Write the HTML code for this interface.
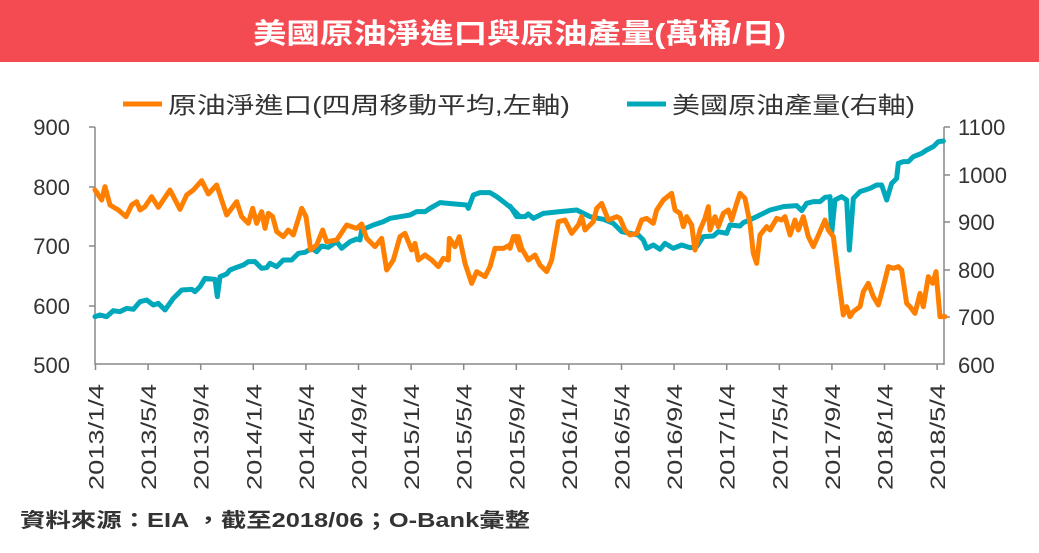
<!DOCTYPE html>
<html><head><meta charset="utf-8"><style>
body{margin:0;width:1039px;height:548px;background:#fff;overflow:hidden;font-family:"Liberation Sans","Noto Sans CJK TC",sans-serif}
</style></head><body>
<svg width="1039" height="548" xmlns="http://www.w3.org/2000/svg" font-family="Liberation Sans, Noto Sans CJK TC, sans-serif">
<rect x="0" y="0" width="1039" height="62" fill="#f44a52"/>
<text x="253" y="43" fill="#fff" font-size="28" font-weight="bold" textLength="533" lengthAdjust="spacingAndGlyphs">美國原油淨進口與原油產量(萬桶/日)</text>
<line x1="123" y1="104" x2="162" y2="104" stroke="#ff8000" stroke-width="5"/>
<text x="168" y="113" font-size="23" fill="#333" textLength="402" lengthAdjust="spacingAndGlyphs">原油淨進口(四周移動平均,左軸)</text>
<line x1="627" y1="104" x2="666" y2="104" stroke="#00a8bc" stroke-width="5"/>
<text x="672" y="113" font-size="23" fill="#333" textLength="243" lengthAdjust="spacingAndGlyphs">美國原油產量(右軸)</text>
<g stroke="#888" stroke-width="1.5" fill="none">
<line x1="95" y1="127" x2="95" y2="365"/>
<line x1="944" y1="127" x2="944" y2="365"/>
<line x1="95" y1="364" x2="944" y2="364"/>
<line x1="89" y1="127" x2="95" y2="127"/><line x1="89" y1="187" x2="95" y2="187"/><line x1="89" y1="246" x2="95" y2="246"/><line x1="89" y1="306" x2="95" y2="306"/>
<line x1="944" y1="127" x2="950" y2="127"/><line x1="944" y1="175" x2="950" y2="175"/><line x1="944" y1="222" x2="950" y2="222"/><line x1="944" y1="270" x2="950" y2="270"/><line x1="944" y1="317" x2="950" y2="317"/>
</g>
<g font-size="22" fill="#333" text-anchor="end">
<text x="70" y="135">900</text><text x="70" y="195">800</text><text x="70" y="254">700</text><text x="70" y="314">600</text><text x="70" y="373">500</text>
</g>
<g font-size="22" fill="#333">
<text x="958" y="135">1100</text><text x="958" y="183">1000</text><text x="958" y="230">900</text><text x="958" y="278">800</text><text x="958" y="325">700</text><text x="958" y="373">600</text>
</g>
<g id="xt" stroke="#888" stroke-width="1.5"></g>
<g id="xl" font-size="21" fill="#333"></g>
<g transform="translate(90,120) scale(0.33333)" fill="none" stroke-width="15" stroke-linejoin="round" stroke-linecap="round">
<polyline stroke="#00a8bc" points="15,590 30,585 50,590 70,572 90,575 110,565 130,568 150,545 170,540 190,555 205,550 225,570 250,535 275,510 305,508 315,515 330,500 345,475 375,478 382,530 390,470 410,462 420,450 440,442 460,435 475,425 495,425 515,445 530,443 540,430 560,440 580,420 605,420 625,400 645,397 665,385 680,395 695,378 715,382 740,365 755,385 780,365 800,357 810,360 815,330 850,315 880,305 900,295 930,290 960,285 980,275 1005,275 1020,265 1050,248 1075,250 1095,252 1130,255 1135,265 1150,225 1170,218 1200,218 1220,230 1240,245 1265,265 1290,290"/>
<polyline stroke="#ff8000" points="15,210 35,240 45,200 60,255 85,270 108,290 125,255 140,245 150,270 165,260 185,230 205,262 240,210 270,268 290,225 310,210 335,182 355,222 380,195 410,285 440,245 455,290 475,310 488,265 500,310 515,275 525,325 535,280 548,290 560,335 580,350 595,330 610,345 635,265 648,290 662,390 680,375 698,330 710,365 740,360 770,315 800,325 815,312 830,355 855,380 875,355 890,450 910,420 930,350 945,340 965,390 975,370 985,420 1005,405 1025,420 1045,440 1060,415 1075,420 1078,355 1095,380 1108,350 1125,430 1145,490 1160,455 1185,470 1200,440 1215,385 1240,385 1260,375 1275,350 1290,390"/>
</g>
<g transform="translate(510,120) scale(0.33333)" fill="none" stroke-width="15" stroke-linejoin="round" stroke-linecap="round">
<polyline stroke="#00a8bc" points="0,258 20,290 45,290 55,282 70,295 100,280 150,275 200,270 240,290 280,298 310,310 335,335 360,340 385,345 400,360 410,385 430,375 450,388 465,370 490,385 515,375 540,383 560,380 580,350 610,348 625,335 650,340 660,315 690,318 700,308 740,290 780,270 820,260 860,257 875,272 890,250 910,245 930,245 945,232 960,230 965,340 975,240 995,230 1010,240 1018,390 1030,235 1050,215 1080,205 1100,195 1115,195 1130,240 1145,190 1160,175 1165,130 1180,125 1195,125 1210,110 1235,100 1250,90 1270,80 1285,65 1300,63"/>
<polyline stroke="#ff8000" points="0,385 10,350 25,350 35,385 55,420 75,405 90,435 110,455 125,420 145,305 165,300 185,340 205,315 215,290 225,330 250,305 260,265 275,250 295,300 320,290 330,295 345,330 360,345 380,340 395,300 410,295 430,310 440,270 460,240 485,220 495,270 510,280 520,320 530,290 545,315 555,390 570,330 585,295 595,260 600,330 615,290 625,320 640,280 655,270 665,300 680,250 690,220 705,235 720,310 730,400 740,430 750,345 770,320 780,330 800,295 815,300 825,290 840,345 855,300 865,330 880,290 895,350 910,380 930,335 945,300 955,330 970,350 985,470 1000,585 1010,560 1020,590 1030,575 1050,560 1060,515 1075,490 1090,530 1105,555 1120,500 1135,440 1150,445 1165,440 1175,450 1190,550 1200,560 1215,580 1230,520 1240,560 1255,470 1268,490 1278,455 1290,590 1305,590"/>
</g>
<text x="20" y="527" font-size="20" font-weight="bold" fill="#333" textLength="510" lengthAdjust="spacingAndGlyphs">資料來源：EIA ，截至2018/06；O-Bank彙整</text>
</svg>
<script>
var labs=["2013/1/4","2013/5/4","2013/9/4","2014/1/4","2014/5/4","2014/9/4","2015/1/4","2015/5/4","2015/9/4","2016/1/4","2016/5/4","2016/9/4","2017/1/4","2017/5/4","2017/9/4","2018/1/4","2018/5/4"];
var ns="http://www.w3.org/2000/svg",xt=document.getElementById("xt"),xl=document.getElementById("xl");
for(var i=0;i<labs.length;i++){var x=95.5+i*52.6;
var l=document.createElementNS(ns,"line");l.setAttribute("x1",x);l.setAttribute("x2",x);l.setAttribute("y1",364);l.setAttribute("y2",370);xt.appendChild(l);
var t=document.createElementNS(ns,"text");t.setAttribute("transform","translate("+(x+8)+",384) rotate(-90)");t.setAttribute("text-anchor","end");t.setAttribute("textLength","106");t.setAttribute("lengthAdjust","spacingAndGlyphs");t.textContent=labs[i];xl.appendChild(t);}
</script>
</body></html>
